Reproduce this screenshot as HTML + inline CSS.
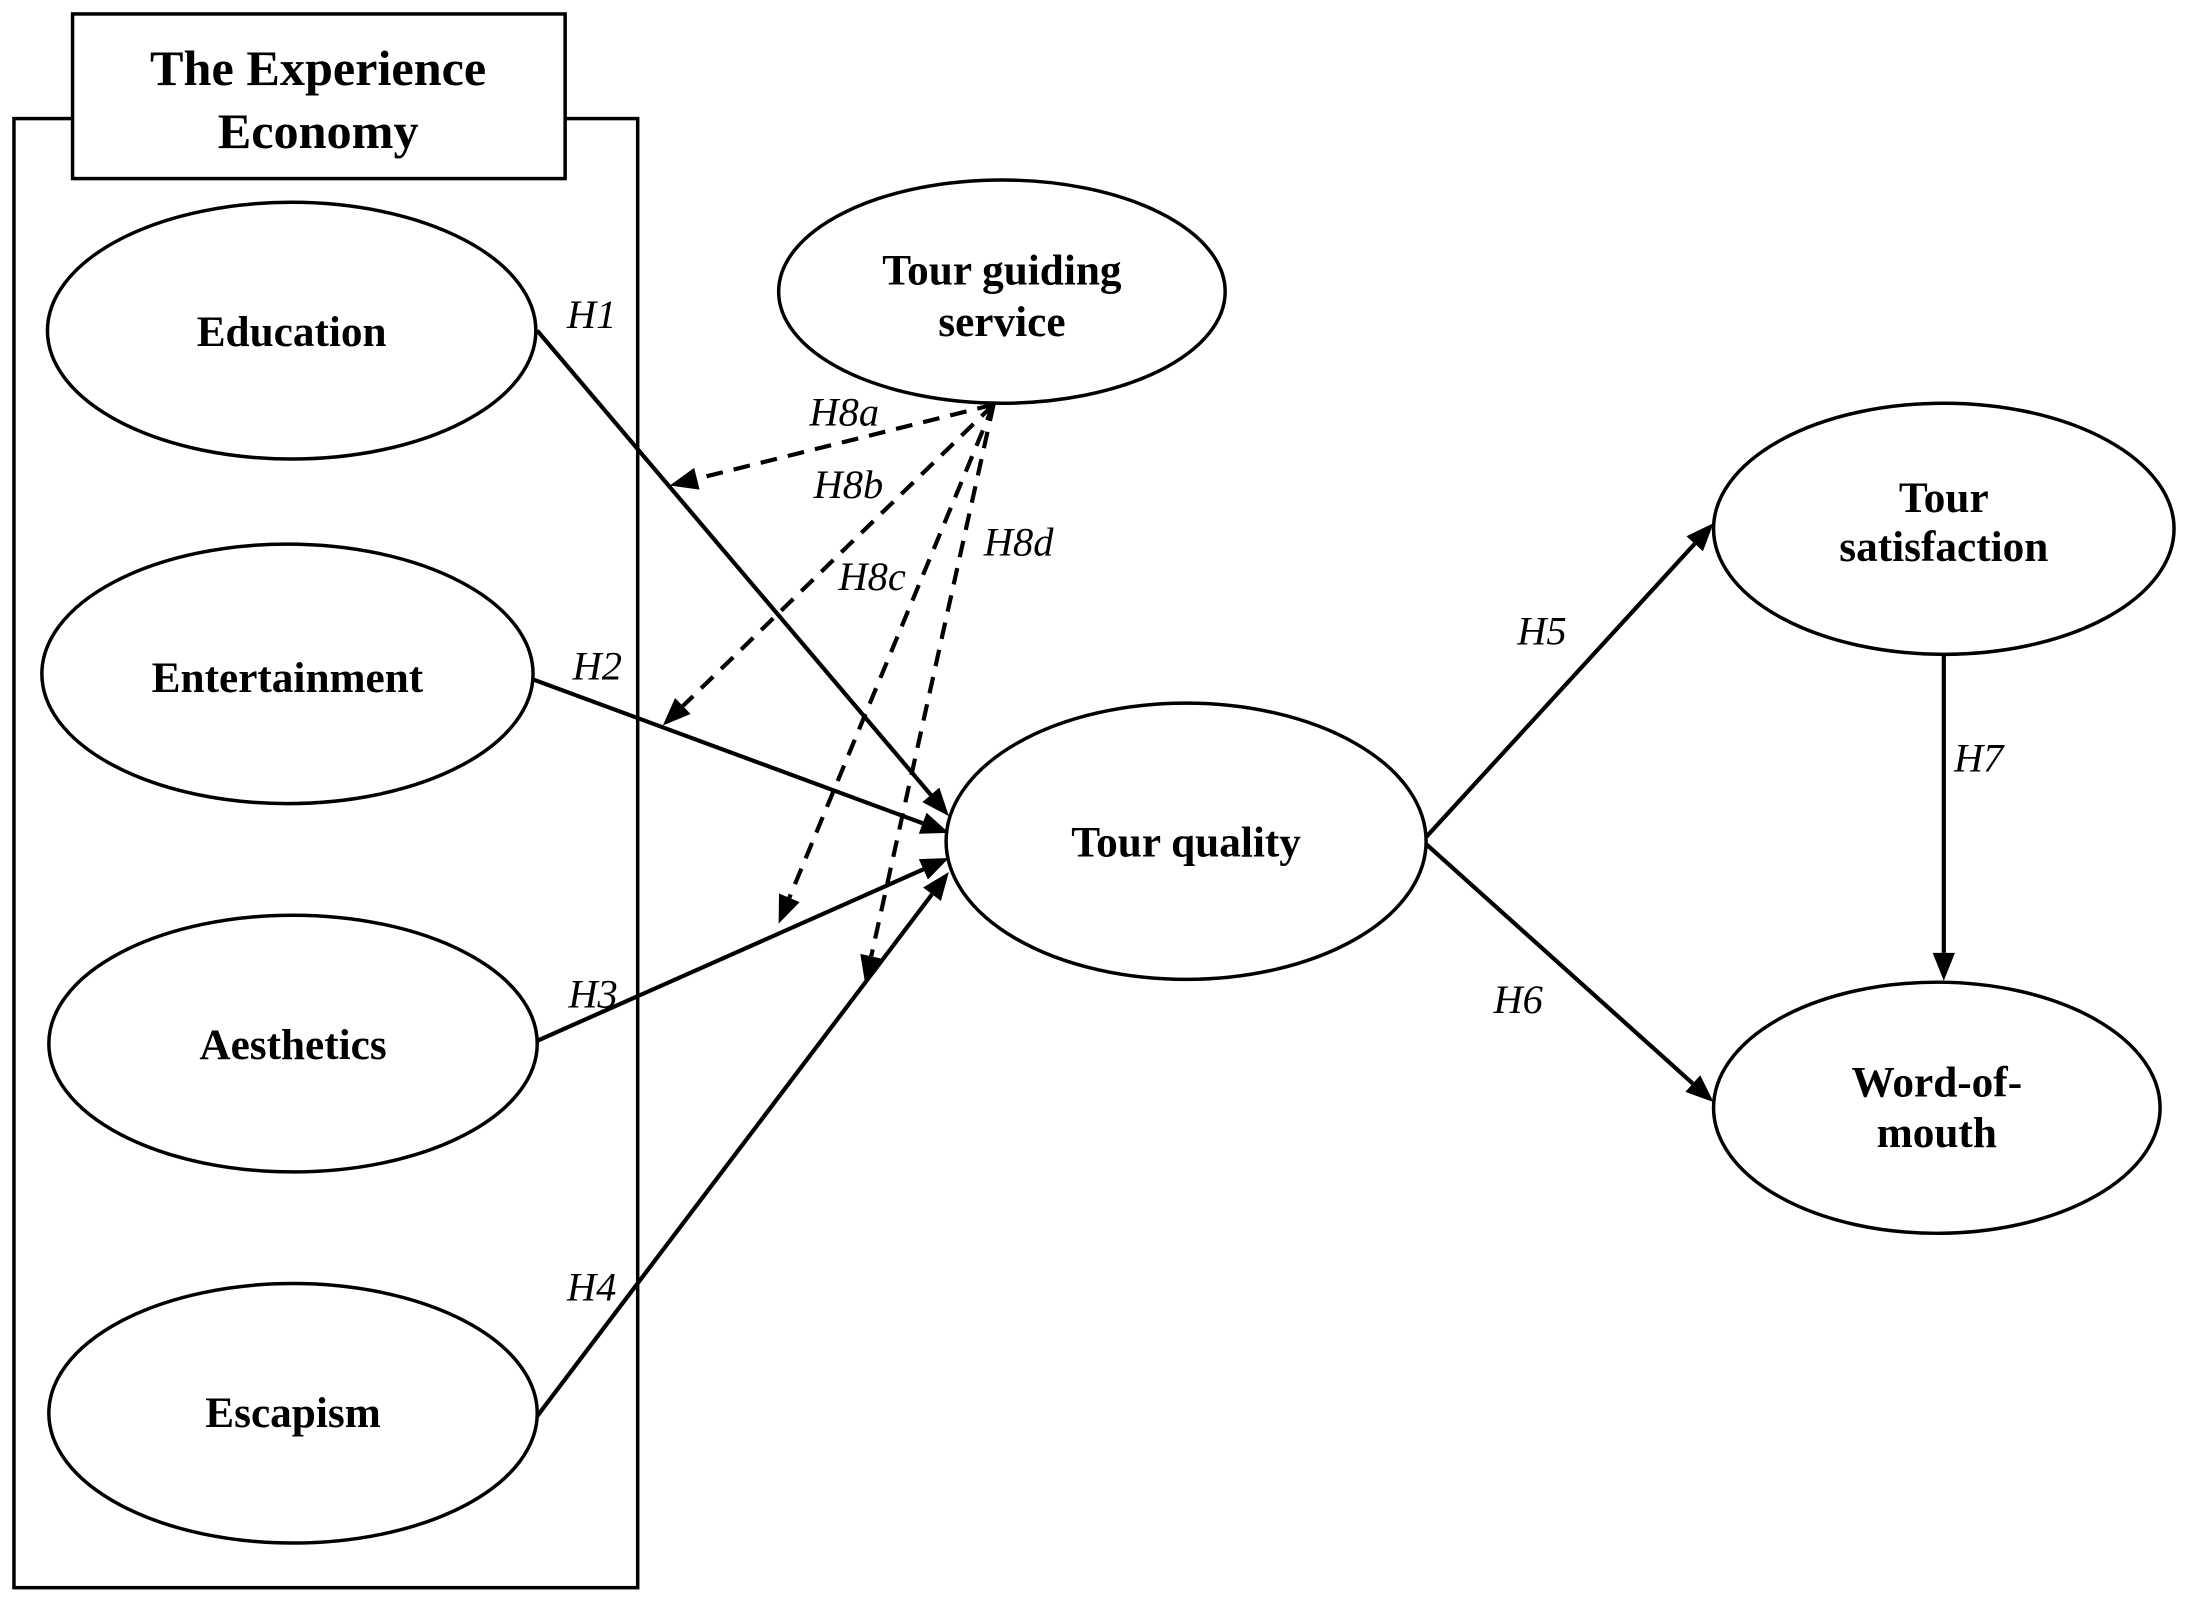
<!DOCTYPE html>
<html><head><style>html,body{margin:0;padding:0;background:#fff}svg{display:block}</style></head>
<body>
<svg id="s" width="2188" height="1610" viewBox="0 0 1568 1154" preserveAspectRatio="none" xmlns="http://www.w3.org/2000/svg">
<g fill="#fff" stroke="#000" stroke-width="2.5">
<rect x="10" y="85" width="447" height="1053" fill="none"/>
<rect x="52" y="10" width="353" height="118"/>
<ellipse cx="209" cy="237" rx="175" ry="92"/>
<ellipse cx="206" cy="483" rx="176" ry="93"/>
<ellipse cx="210" cy="748" rx="175" ry="92"/>
<ellipse cx="210" cy="1013" rx="175" ry="93"/>
<ellipse cx="718" cy="209" rx="160" ry="80"/>
<ellipse cx="850" cy="603" rx="172" ry="99"/>
<ellipse cx="1393" cy="379" rx="165" ry="90"/>
<ellipse cx="1388" cy="794" rx="160" ry="90"/>
</g>
<g id="lines"></g>
<g font-family="Liberation Serif, serif" font-weight="bold" font-size="31" text-anchor="middle">
<text x="228" y="61" font-size="36">The Experience</text>
<text x="228" y="106" font-size="36">Economy</text>
<text x="209" y="248">Education</text>
<text x="206" y="496">Entertainment</text>
<text x="210" y="759">Aesthetics</text>
<text x="210" y="1023">Escapism</text>
<text x="718" y="204">Tour guiding</text>
<text x="718" y="241">service</text>
<text x="850" y="614">Tour quality</text>
<text x="1393" y="367">Tour</text>
<text x="1393" y="402">satisfaction</text>
<text x="1388" y="786">Word-of-</text>
<text x="1388" y="822">mouth</text>
</g>
<g font-family="Liberation Serif, serif" font-style="italic" font-size="29" text-anchor="middle">
<text x="424" y="235">H1</text>
<text x="428" y="487">H2</text>
<text x="425" y="722">H3</text>
<text x="424" y="932">H4</text>
<text x="1105" y="462">H5</text>
<text x="1088" y="726">H6</text>
<text x="1418" y="553">H7</text>
<text x="605" y="305">H8a</text>
<text x="608" y="357">H8b</text>
<text x="625" y="423">H8c</text>
<text x="730" y="398">H8d</text>
</g>
</svg>
<script>
var L=[[385,237,680,585,0],[382,487,680,597,0],[385,746,680,615,0],[385,1015,680,625,0],[1022,600,1228,375,0],[1022,605,1228,790,0],[1393,470,1393,703,0],
[712,290,480,348,1],[712,290,475,520,1],[712,290,558,662,1],[712,290,620,705,1]];
var g=document.getElementById('lines'),ns='http://www.w3.org/2000/svg',h='';
L.forEach(function(l){var dx=l[2]-l[0],dy=l[3]-l[1],d=Math.hypot(dx,dy),ux=dx/d,uy=dy/d,len=20,w=8;
var bx=l[2]-ux*len,by=l[3]-uy*len;
h+='<line x1="'+l[0]+'" y1="'+l[1]+'" x2="'+bx+'" y2="'+by+'" stroke="#000" stroke-width="3"'+(l[4]?' stroke-dasharray="12,8"':'')+'/>';
h+='<polygon fill="#000" points="'+l[2]+','+l[3]+' '+(bx-uy*w)+','+(by+ux*w)+' '+(bx+uy*w)+','+(by-ux*w)+'"/>';});
g.innerHTML=h;
</script>
</body></html>
